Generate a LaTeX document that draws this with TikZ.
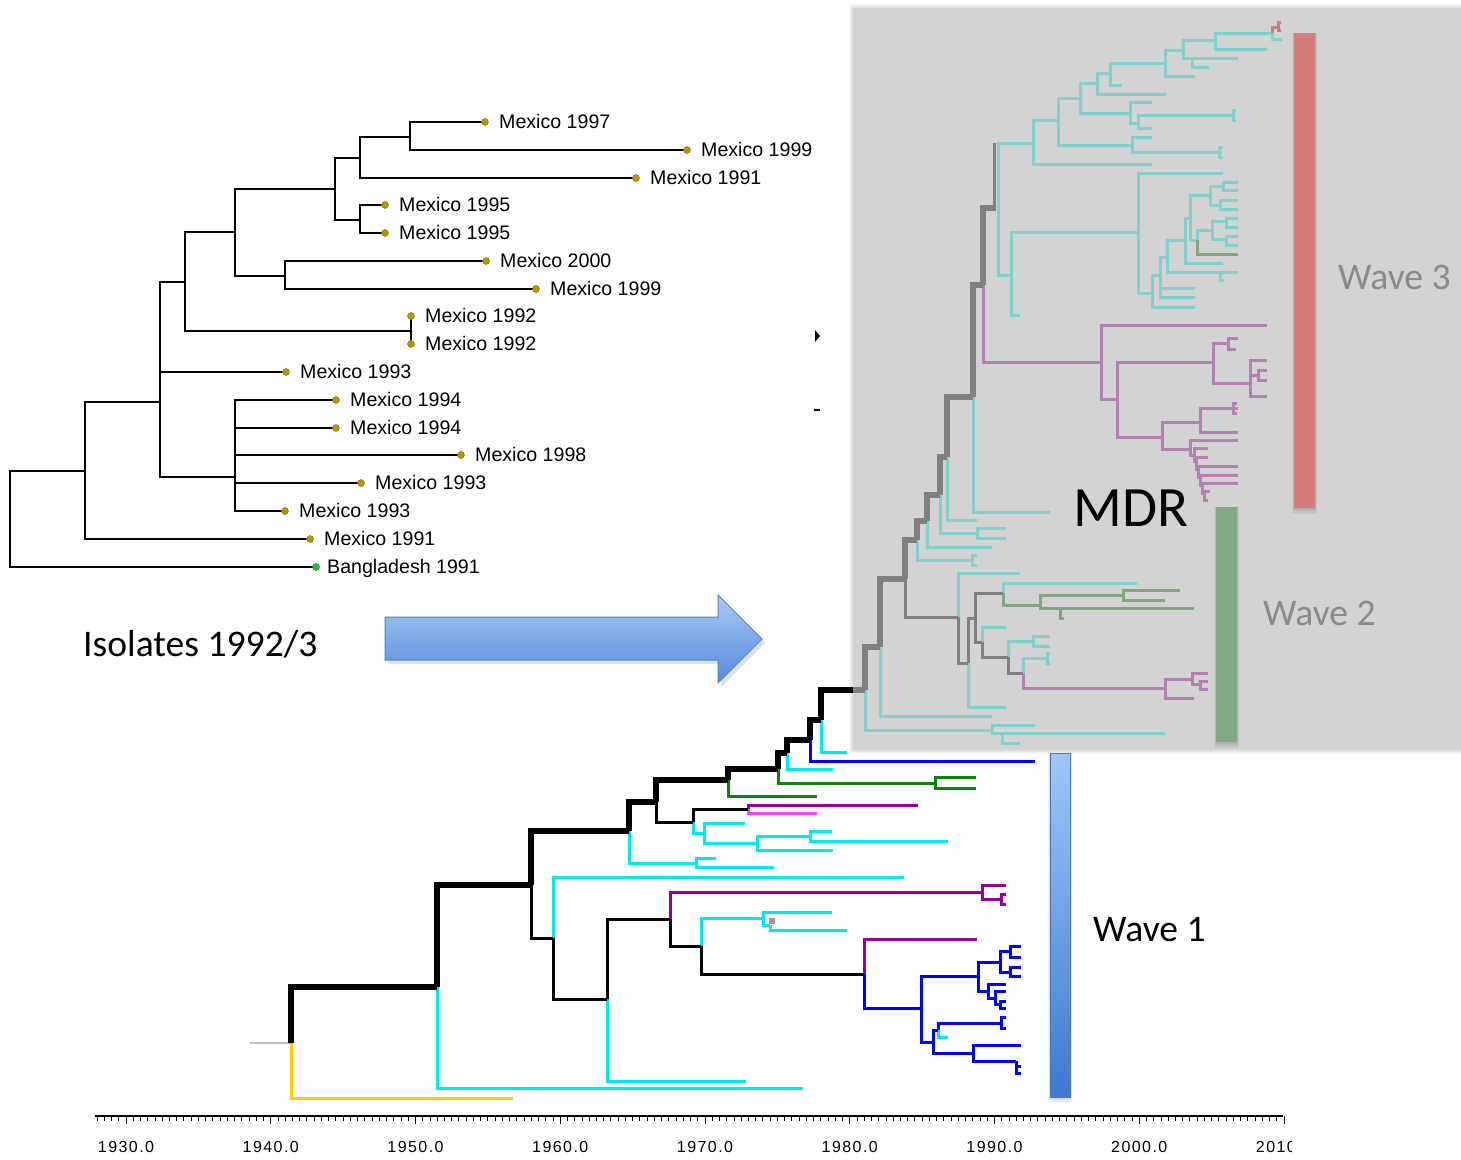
\documentclass[tikz,border=0pt]{standalone}
\usepackage{fontspec}
\setmainfont{Liberation Sans}
\newfontfamily\calfont{Carlito}
\definecolor{lcy}{RGB}{0,234,234}
\definecolor{lblu}{RGB}{0,0,255}
\definecolor{lgrn}{RGB}{16,128,16}
\definecolor{lpur}{RGB}{153,0,153}
\definecolor{lmag}{RGB}{255,60,255}
\definecolor{lyel}{RGB}{255,204,0}
\definecolor{boxgrey}{RGB}{211,211,211}
\definecolor{gtr}{RGB}{128,128,128}
\definecolor{gcy}{RGB}{128,208,206}
\definecolor{gpu}{RGB}{180,128,180}
\definecolor{ggr}{RGB}{128,168,128}
\definecolor{gred}{RGB}{212,120,128}
\definecolor{wthree}{RGB}{212,123,123}
\definecolor{wtwo}{RGB}{128,170,128}
\definecolor{olive}{RGB}{180,152,0}
\definecolor{olived}{RGB}{130,110,0}
\definecolor{bgreen}{RGB}{30,190,60}
\definecolor{wavegrey}{RGB}{138,138,138}
\begin{document}
\begin{tikzpicture}[x=1pt,y=-1pt,line join=miter,
  lt/.style={line width=1.4pt,black},
  lk/.style={line width=6pt,black},
  lb/.style={line width=3pt,black},
  lc/.style={line width=3pt,lcy},
  lbl/.style={line width=3pt,lblu},
  lg/.style={line width=3pt,lgrn},
  lp/.style={line width=3pt,lpur},
  lm/.style={line width=3pt,lmag},
  ly/.style={line width=3pt,lyel},
  gk/.style={line width=6pt,gtr},
  gt/.style={line width=3pt,gtr},
  gc/.style={line width=3pt,gcy},
  gp/.style={line width=3pt,gpu},
  gg/.style={line width=3pt,ggr},
  gr/.style={line width=3pt,gred},
  tipdot/.style={circle,fill=olive,draw=olived,line width=0.4pt,inner sep=0pt,minimum size=7pt},
  lab/.style={anchor=base west,font=\fontsize{19.6}{22}\selectfont,inner sep=0pt},
  big/.style={font=\calfont\fontsize{37.6}{40}\selectfont,inner sep=0pt},
  axl/.style={anchor=base,inner sep=0pt,font=\addfontfeature{LetterSpace=9}\fontsize{16}{18}\selectfont}]
\useasboundingbox (0,0) rectangle (1461,1159);
\fill[white] (0,0) rectangle (1461,1159);

% ---------- grey box (MDR) ----------
\foreach \i in {1,...,4}
  \fill[black,opacity=0.03] (853-\i,8-\i) rectangle (1461,750+\i);
\fill[boxgrey] (853,8) rectangle (1461,750);

% wave bars
\foreach \i in {1,...,4}{
  \fill[black,opacity=0.04] (1294-\i*0.5,33) rectangle (1315+\i*0.5,508+\i*1.5);
  \fill[black,opacity=0.04] (1216-\i*0.5,507) rectangle (1237+\i*0.5,742+\i*1.5);
  \fill[black,opacity=0.04] (1050-\i*0.5,753) rectangle (1070+\i*0.5,1097+\i*1.5);}
\fill[wthree] (1294,33) rectangle (1315,508);
\fill[wtwo] (1216,507) rectangle (1237,742);
\shade[top color={rgb,255:red,160;green,198;blue,248},bottom color={rgb,255:red,58;green,122;blue,208},draw={rgb,255:red,70;green,118;blue,186},line width=1pt]
  (1050,753) rectangle (1070,1097);

% ---------- upper-left tree ----------
\begin{scope}[lt]
\foreach \a/\b/\c/\d in {10/519/85/471, 10/519/316/567, 85/471/160/402, 85/471/310/539,
  160/402/185/282, 160/402/286/372, 160/402/235/477, 185/282/235/232, 185/282/411/331,
  235/232/335/189, 235/232/285/276, 335/189/360/158, 335/189/360/220,
  360/158/410/137, 360/158/636/178, 410/137/485/122, 410/137/687/150,
  360/220/385/205, 360/220/385/233, 285/276/486/261, 285/276/536/289,
  235/477/336/400, 235/477/336/428, 235/477/461/455, 235/477/361/483, 235/477/285/511}
  \draw (\a,\b) |- (\c,\d);
\draw (411,316) -- (411,344);
\end{scope}
\foreach \n/\x/\y/\t in {t1/485/122/Mexico 1997, t2/687/150/Mexico 1999, t3/636/178/Mexico 1991,
  t4/385/205/Mexico 1995, t5/385/233/Mexico 1995, t6/486/261/Mexico 2000, t7/536/289/Mexico 1999,
  t8/411/316/Mexico 1992, t9/411/344/Mexico 1992, t10/286/372/Mexico 1993, t11/336/400/Mexico 1994,
  t12/336/428/Mexico 1994, t13/461/455/Mexico 1998, t14/361/483/Mexico 1993, t15/285/511/Mexico 1993,
  t16/310/539/Mexico 1991}{
  \node[tipdot] (d\n) at (\x,\y) {};
  \node[lab] (\n) at (\x+14,\y+6) {\t};}
\node[tipdot,fill=bgreen,draw=bgreen!70!black] (dt17) at (316,567) {};
\node[lab] (t17) at (327,573) {Bangladesh 1991};
\fill[black] (815,330) -- (820,336) -- (815,342) -- cycle;
\draw[line width=1.5pt] (814,410) -- (820,410);

% ---------- arrow ----------
\fill[black,opacity=0.12] (388,621) -- (721,621) -- (721,599) -- (765,643) -- (721,687) -- (721,664) -- (388,664) -- cycle;
\shade[top color={rgb,255:red,168;green,202;blue,246},bottom color={rgb,255:red,86;green,138;blue,220},draw={rgb,255:red,79;green,129;blue,189},line width=1pt]
  (385,617) -- (718,617) -- (718,595) -- (762,639) -- (718,683) -- (718,660) -- (385,660) -- cycle;

% ---------- lower tree ----------
\draw[line width=2.5pt,black!25] (250,1043) -- (291,1043);
\foreach \a/\b/\c/\d in {291/1043/513/1098} \draw[ly] (\a,\b) |- (\c,\d);
\foreach \a/\b/\c/\d in {437/987/803/1088, 553/938/904/877, 607/999/746/1081, 701/946/763/918,
  763/918/832/912, 763/918/770/925, 770/925/847/930, 629/831/696/863, 696/863/716/858, 696/863/774/867,
  693/822/704/833, 704/833/745/823, 704/833/757/843, 757/843/810/836, 757/843/833/850,
  810/836/832/831, 810/836/948/841, 787/753/833/769, 821/720/847/752, 938/1030/948/1037}
  \draw[lc] (\a,\b) |- (\c,\d);
\foreach \a/\b/\c/\d in {670/919/982/892, 982/892/1006/885, 982/892/1001/899, 1001/899/1006/894,
  1001/899/1006/904, 864/974/977/939, 748/809/918/805}
  \draw[lp] (\a,\b) |- (\c,\d);
\draw[lm] (748,809) |- (817,813);
\foreach \a/\b/\c/\d in {728/780/817/796, 778/769/935/783, 935/783/976/777, 935/783/976/788}
  \draw[lg] (\a,\b) |- (\c,\d);
\foreach \a/\b/\c/\d in {810/740/1035/761, 864/974/921/1008, 921/1008/978/976, 921/1008/933/1042,
  978/976/1000/962, 978/976/988/991, 1000/962/1010/951, 1000/962/1010/972, 1010/951/1021/946,
  1010/951/1021/957, 1010/972/1021/967, 1010/972/1021/976, 988/991/1006/984, 988/991/995/998,
  995/998/1006/991, 995/998/1000/1004, 1000/1004/1006/1001, 1000/1004/1006/1008,
  933/1042/938/1030, 933/1042/973/1053, 938/1030/1001/1023, 1001/1023/1006/1017,
  1001/1023/1006/1028, 973/1053/1021/1045, 973/1053/1016/1061, 1016/1061/1021/1066, 1016/1061/1021/1073}
  \draw[lbl] (\a,\b) |- (\c,\d);
\foreach \a/\b/\c/\d in {531/885/553/938, 553/938/607/999, 607/999/670/919, 670/919/701/946,
  701/946/864/974, 656/802/693/822, 693/822/748/809}
  \draw[lb] (\a,\b) |- (\c,\d);
\foreach \a/\b/\c/\d in {291/1043/437/987, 437/987/531/885, 531/885/629/831, 629/831/656/802,
  656/802/728/780, 728/780/778/769, 778/769/787/753, 787/753/810/740, 810/740/821/720, 821/720/853/690}
  \draw[lk] (\a,\b) |- (\c,\d);
\fill[gtr!80] (769,918) rectangle (775,924);

% ---------- MDR tree ----------
\foreach \a/\b/\c/\d in {865/690/992/730, 992/730/1035/725, 992/730/1165/733, 1002/733/1020/743,
  880/647/992/716, 958/617/1020/573, 968/663/1006/707, 1003/593/1137/583, 982/642/1006/627,
  1008/657/1033/641, 1033/641/1050/636, 1033/641/1050/646, 1023/673/1047/658, 1047/658/1050/653,
  1047/658/1050/663, 917/540/972/560, 972/560/977/555, 972/560/977/565, 927/521/992/547,
  940/495/977/533, 977/533/1006/528, 977/533/1006/538, 947/457/977/520, 973/397/1050/512,
  998/208/1033/143, 998/208/1011/275, 1033/143/1058/120, 1033/143/1152/164, 1058/120/1080/98,
  1058/120/1132/145, 1132/145/1152/137, 1132/145/1222/152, 1219/152/1223/147, 1219/152/1223/157,
  1080/98/1097/83, 1080/98/1130/113, 1130/113/1152/102, 1130/113/1138/123, 1138/123/1235/115,
  1138/123/1152/128, 1233/115/1236/110, 1233/115/1236/120, 1097/83/1110/73, 1097/83/1166/94,
  1110/73/1165/63, 1110/73/1122/85, 1165/63/1183/50, 1165/63/1195/76, 1183/50/1215/40,
  1183/50/1238/58, 1192/58/1209/67, 1215/40/1272/33, 1215/40/1267/49, 1272/33/1282/39,
  1011/275/1138/232, 1011/275/1020/315, 1138/232/1223/173, 1138/232/1152/293, 1152/293/1160/275,
  1152/293/1195/307, 1160/275/1167/257, 1160/275/1195/288, 1160/275/1195/297, 1167/257/1185/240,
  1167/257/1238/272, 1220/272/1224/280, 1185/240/1190/218, 1185/240/1223/263, 1190/218/1210/195,
  1190/218/1197/240, 1210/195/1223/186, 1210/195/1220/205, 1223/186/1238/182, 1223/186/1238/190,
  1220/205/1238/200, 1220/205/1238/209, 1197/240/1212/230, 1212/230/1226/221, 1212/230/1226/239,
  1226/221/1238/218, 1226/221/1238/227, 1226/239/1238/236, 1226/239/1238/245}
  \draw[gc] (\a,\b) |- (\c,\d);
\foreach \a/\b/\c/\d in {1003/593/1040/605, 1040/605/1123/595, 1040/605/1060/608, 1060/608/1194/608,
  1060/608/1064/618, 1123/595/1180/590, 1123/595/1165/600, 1197/240/1238/254}
  \draw[gg] (\a,\b) |- (\c,\d);
\foreach \a/\b/\c/\d in {1023/673/1165/688, 1165/688/1192/679, 1165/688/1194/698, 1192/679/1208/673,
  1192/679/1200/684, 1200/684/1208/681, 1200/684/1208/689, 983/285/1101/362, 1101/362/1267/325,
  1101/362/1117/399, 1117/399/1213/362, 1117/399/1162/437, 1213/362/1228/343, 1213/362/1250/383,
  1228/343/1238/338, 1228/343/1236/349, 1250/383/1267/360, 1250/383/1258/375, 1258/375/1267/370,
  1258/375/1267/380, 1250/383/1267/396, 1162/437/1200/422, 1162/437/1190/449, 1200/422/1238/408,
  1200/422/1238/432, 1233/408/1237/403, 1233/408/1237/413, 1190/449/1238/440, 1190/449/1194/455,
  1194/455/1208/448, 1194/455/1196/461, 1196/461/1208/457, 1196/461/1198/469, 1198/469/1238/466,
  1198/469/1200/477, 1200/477/1238/475, 1200/477/1202/485, 1202/485/1238/483, 1202/485/1204/493,
  1204/493/1210/491, 1204/493/1208/500}
  \draw[gp] (\a,\b) |- (\c,\d);
\foreach \a/\b/\c/\d in {1272/33/1278/27, 1278/27/1281/22, 1278/27/1281/30}
  \draw[gr] (\a,\b) |- (\c,\d);
\foreach \a/\b/\c/\d in {905/579/958/617, 958/617/968/663, 968/663/975/618, 975/618/1003/593,
  975/618/982/642, 982/642/1008/657, 1008/657/1023/673}
  \draw[gt] (\a,\b) |- (\c,\d);
\draw[gt] (994,143) -- (994,208);
\draw[gk] (853,690) -- (865,690);
\foreach \a/\b/\c/\d in {865/690/880/647, 880/647/905/579, 905/579/917/540, 917/540/927/521,
  927/521/940/495, 940/495/947/457, 947/457/973/397, 973/397/983/285, 983/285/996/208}
  \draw[gk] (\a,\b) |- (\c,\d);

% ---------- texts ----------
\node[big,anchor=base west] (iso) at (83,656) {Isolates 1992/3};
\node[inner sep=0pt,anchor=base,font=\calfont\fontsize{57}{60}\selectfont] (mdr) at (1131,526) {MDR};
\node[big,anchor=base west,text=wavegrey] (w3) at (1338,289) {Wave 3};
\node[big,anchor=base west,text=wavegrey] (w2) at (1263,625) {Wave 2};
\node[big,anchor=base west] (w1) at (1093,941) {Wave 1};

% ---------- axis ----------
\draw[line width=1.5pt] (95,1116) -- (1283,1116);
\foreach \k in {-4,...,160}
  \draw[line width=0.9pt] (126+\k*7.2375,1116) -- ++(0,4.5);
\foreach \k in {0,...,8}
  \draw[line width=1pt] (126+\k*144.75,1116) -- ++(0,8);
\begin{scope}
\clip (0,1125) rectangle (1291,1159);
\foreach \k/\t in {0/1930.0,1/1940.0,2/1950.0,3/1960.0,4/1970.0,5/1980.0,6/1990.0,7/2000.0,8/2010.0}
  \node[axl] (ax\k) at (126+\k*144.75,1152) {\t};
\end{scope}
\end{tikzpicture}
\end{document}
